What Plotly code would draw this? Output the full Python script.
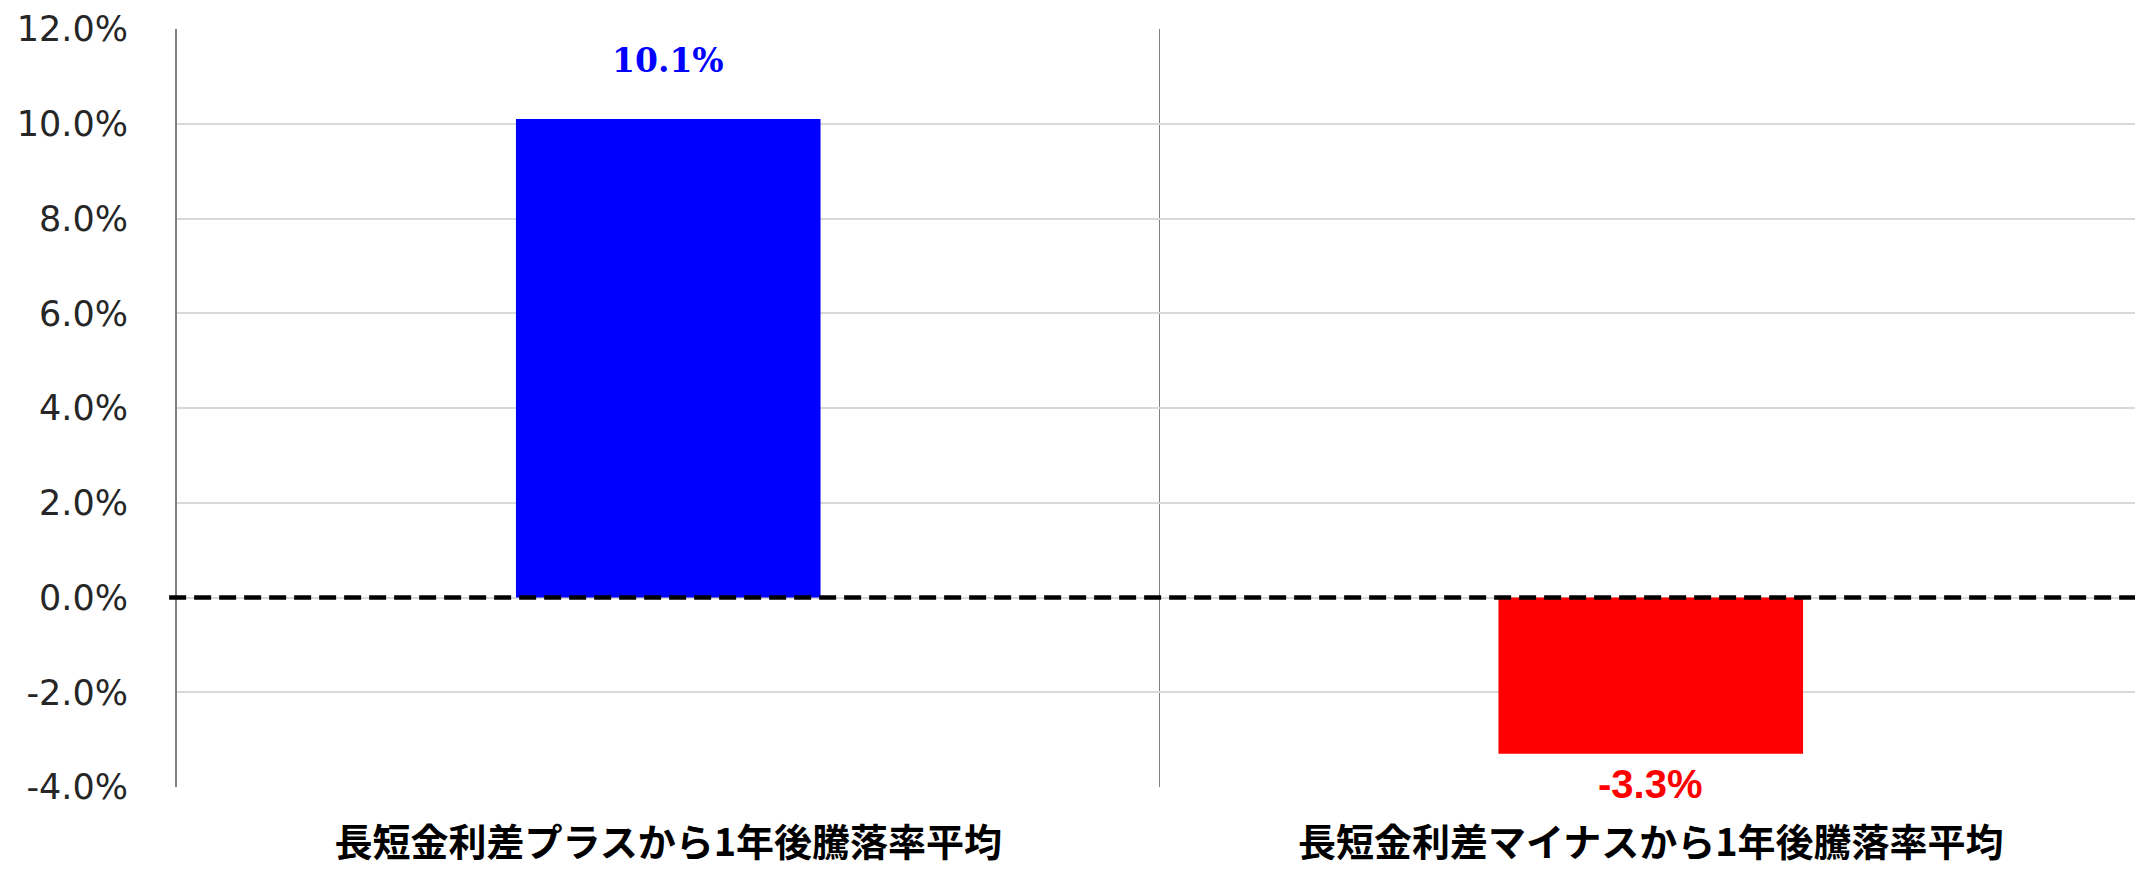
import plotly.graph_objects as go

categories = ["長短金利差プラスから1年後騰落率平均", "長短金利差マイナスから1年後騰落率平均"]
values = [10.1, -3.3]
bar_colors = ["#0000FF", "#FF0000"]
label_texts = ["10.1%", "-3.3%"]
y_tickvals = [-4, -2, 0, 2, 4, 6, 8, 10, 12]
y_ticktext = ["-4.0%", "-2.0%", "0.0%", "2.0%", "4.0%", "6.0%", "8.0%", "10.0%", "12.0%"]

fig = go.Figure()
fig.add_trace(go.Bar(
    x=categories, y=values,
    marker=dict(color=bar_colors, line=dict(width=0)),
    width=0.31,
    hoverinfo="skip",
))

# value labels
fig.add_annotation(x=categories[0], y=values[0], text="<b>" + label_texts[0] + "</b>",
                   showarrow=False, yanchor="bottom", yshift=37,
                   font=dict(family="DejaVu Serif", size=33, color=bar_colors[0]))
fig.add_annotation(x=categories[1], y=values[1], text="<b>" + label_texts[1] + "</b>",
                   showarrow=False, yanchor="top", yshift=-6,
                   font=dict(family="Liberation Sans Narrow, Arial Narrow, Liberation Sans", size=40, color=bar_colors[1]))

# dashed zero line
fig.add_shape(type="line", xref="paper", yref="y", x0=-0.004, x1=1, y0=0, y1=0,
              line=dict(color="black", width=4.5, dash="17px,8px"), layer="above")

fig.update_layout(
    width=2135, height=863,
    margin=dict(l=169, r=1, t=21, b=84),
    paper_bgcolor="white", plot_bgcolor="white",
    showlegend=False,
    xaxis=dict(
        type="category",
        tickson="boundaries",
        showgrid=True, gridcolor="#808080", gridwidth=1,
        ticks="", showline=False,
        tickfont=dict(family="Noto Sans CJK JP", size=38, color="black", weight="bold"),
        ticklabelstandoff=30,
        range=[-0.5, 1.5],
        automargin=False,
    ),
    yaxis=dict(
        range=[-4, 12],
        tickvals=y_tickvals, ticktext=y_ticktext,
        showgrid=True, gridcolor="#d9d9d9", gridwidth=1.5,
        zeroline=False,
        showline=True, linecolor="#808080", linewidth=2,
        ticks="",
        tickfont=dict(family="DejaVu Sans", size=35, color="#262626"),
        ticklabelstandoff=40,
        automargin=False,
    ),
)

fig.write_html("out.html")
